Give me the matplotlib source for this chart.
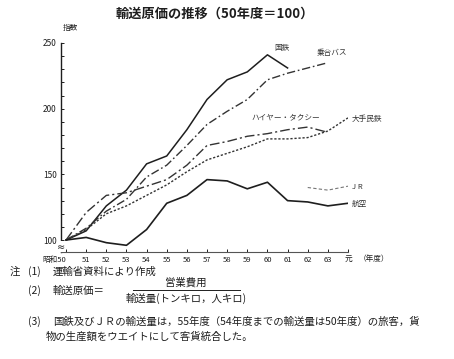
import matplotlib
matplotlib.use("Agg")
import matplotlib.pyplot as plt
import matplotlib.transforms as mtransforms

plt.rcParams['font.family'] = ['Noto Sans CJK JP', 'DejaVu Sans']

# 年度 (昭和50 = 50, 元年 = 64)
years = list(range(50, 65))
year_labels = ['昭和50', '51', '52', '53', '54', '55', '56', '57', '58', '59',
               '60', '61', '62', '63', '元']

# 指数 (50年度=100)
kokutetsu = [100, 107, 126, 138, 158, 164, 184, 207, 222, 228, 241, 231]        # 50-61
noriai_bus = [100, 109, 122, 131, 148, 157, 172, 188, 198, 207, 222, 227, 231, 235]  # 50-63
taxi = [100, 121, 134, 136, 141, 146, 157, 172, 175, 179, 181, 184, 186, 182]       # 50-63
minetsu = [100, 108, 120, 126, 134, 142, 152, 161, 166, 171, 177, 177, 178, 183, 193]  # 50-元
koku = [100, 102, 98, 96, 108, 128, 134, 146, 145, 139, 144, 130, 129, 126, 128]      # 50-元
jr = [140, 138, 141]                                                               # 62-元

ink = '#1e1e1e'

fig = plt.figure(figsize=(4.54, 3.59), dpi=100)
ax = fig.add_axes([61 / 454, 1 - 252 / 359, (348 - 61) / 454, (252 - 43) / 359])

ax.plot(years[:len(kokutetsu)], kokutetsu, color=ink, lw=1.1)
ax.plot(years[:len(noriai_bus)], noriai_bus, color='#333333', lw=1.0, dashes=(6, 2, 1.2, 2))
ax.plot(years[:len(taxi)], taxi, color='#333333', lw=1.0, dashes=(7, 2.2, 1.5, 2.2))
ax.plot(years[:len(minetsu)], minetsu, color='#333333', lw=1.0, dashes=(1.6, 1.3))
ax.plot(years[:len(koku)], koku, color=ink, lw=1.2)
ax.plot(years[-len(jr):], jr, color='#777777', lw=0.8, dashes=(3, 2))

ax.set_xlim(49.75, 64)
ax.set_ylim(90.9, 250)

ax.set_xticks(years)
ax.set_xticklabels(year_labels, fontsize=5.5, color=ink)
ax.get_xticklabels()[0].set_ha('right')
ax.set_yticks([100, 150, 200, 250])
ax.set_yticklabels(['100', '150', '200', '250'], fontsize=6, color=ink)
ax.set_yticks(range(100, 251, 10), minor=True)
ax.tick_params(axis='both', which='both', direction='in', length=2.5, width=0.7, colors=ink, pad=3)
ax.tick_params(axis='y', which='minor', length=1.8)

for s in ['top', 'right']:
    ax.spines[s].set_visible(False)
ax.spines['left'].set_linewidth(1.0)
ax.spines['left'].set_color(ink)
ax.spines['bottom'].set_linewidth(0.8)
ax.spines['bottom'].set_color('#555555')

# 軸の省略記号
trans = mtransforms.blended_transform_factory(ax.transAxes, ax.transData)
ax.text(0, 95, '≈', transform=trans, ha='center', va='center', fontsize=7,
        color=ink, family='DejaVu Sans',
        bbox=dict(facecolor='white', edgecolor='none', pad=0.2))

# 系列名
lab = dict(fontsize=5.5, color='#333333', ha='center', va='center')
ax.text(60.7, 246, '国鉄', **lab)
ax.text(63.2, 242.5, '乗合バス', **lab)
ax.text(60.9, 193.5, 'ハイヤー・タクシー', **lab)
ax.text(64.95, 192, '大手民鉄', **lab)
ax.text(64.45, 140.5, 'J R', **lab)
ax.text(64.55, 127.5, '航空', **lab)

ax.text(64.55, 88.5, '（年度）', fontsize=5.5, color=ink, ha='left', va='top', clip_on=False)

# タイトル・単位
fig.text(215 / 454, 1 - 14 / 359, '輸送原価の推移（50年度＝100）', fontsize=9.5,
         fontweight='bold', color=ink, ha='center', va='center')
fig.text(70 / 454, 1 - 28 / 359, '指数', fontsize=5.5, color=ink, ha='center', va='center')

# 注
nt = dict(fontsize=7.5, color=ink, va='center')
fig.text(10 / 454, 1 - 272 / 359, '注', **nt)
fig.text(28 / 454, 1 - 272 / 359, '(1)', **nt)
fig.text(53 / 454, 1 - 272 / 359, '運輸省資料により作成', **nt)
fig.text(28 / 454, 1 - 291 / 359, '(2)', **nt)
fig.text(53 / 454, 1 - 291 / 359, '輸送原価＝', **nt)
fig.text(186 / 454, 1 - 283 / 359, '営業費用', fontsize=7.5, color=ink, ha='center', va='center')
fig.add_artist(plt.Line2D([133 / 454, 240 / 454], [1 - 290 / 359, 1 - 290 / 359],
                          color=ink, lw=0.7))
fig.text(186 / 454, 1 - 298 / 359, '輸送量(トンキロ，人キロ)', fontsize=7.5, color=ink,
         ha='center', va='center')
fig.text(28 / 454, 1 - 322 / 359, '(3)', **nt)
fig.text(53 / 454, 1 - 322 / 359,
         '国鉄及びＪＲの輸送量は，55年度（54年度までの輸送量は50年度）の旅客，貨', **nt)
fig.text(46 / 454, 1 - 337 / 359, '物の生産額をウエイトにして客貨統合した。', **nt)

fig.savefig('out.png', dpi=100)
